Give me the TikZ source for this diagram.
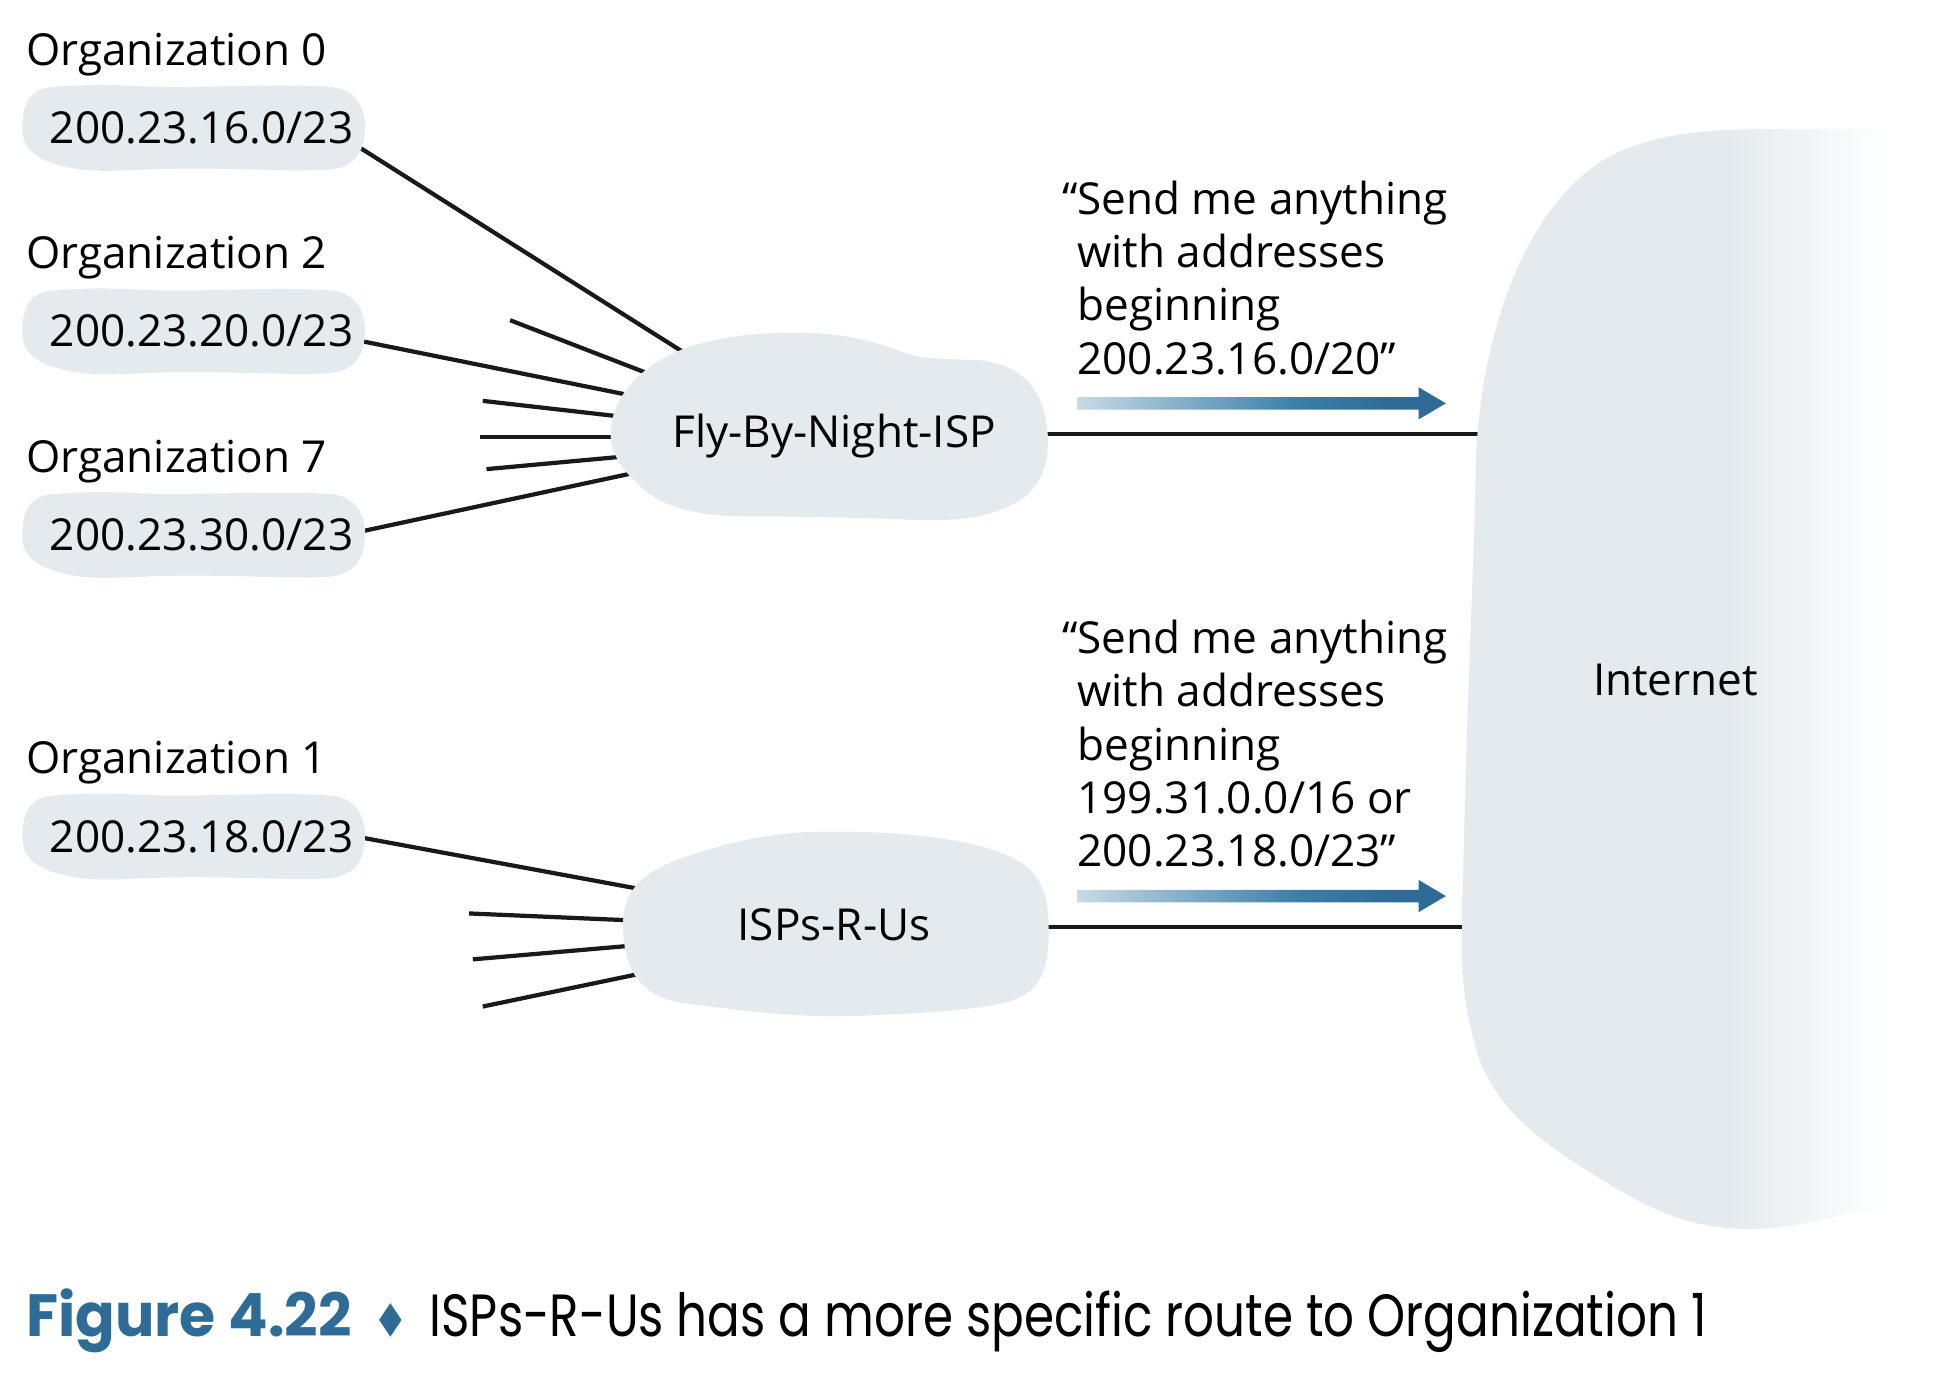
\documentclass[tikz,border=0pt]{standalone}
\usepackage{fontspec}
\usepackage{graphicx}
\setmainfont{Open Sans}
\newfontfamily\capfont{Poppins}
\pgfdeclarelayer{bg}
\pgfdeclarelayer{mid}
\pgfsetlayers{bg,mid,main}
\definecolor{cloudgray}{HTML}{E4EAED}
\definecolor{capblue}{HTML}{2E6B96}
\definecolor{arrlight}{HTML}{C8DAE5}
\definecolor{arrmid}{HTML}{3A7FA8}
\definecolor{arrdark}{HTML}{2E6B96}
\pgfdeclarehorizontalshading{inetshade}{100bp}{color(0bp)=(cloudgray); color(54bp)=(cloudgray); color(72bp)=(white); color(100bp)=(white)}
\pgfdeclarehorizontalshading{arrshade}{100bp}{color(0bp)=(arrlight); color(25bp)=(arrlight); color(55bp)=(arrmid); color(68bp)=(arrdark); color(100bp)=(arrdark)}
\newcommand{\myorgblob}[1]{%
  \begin{scope}[shift={#1}]
  \fill[cloudgray] (-112,-33) .. controls (-60,-37) and (-50,-32) .. (0,-33)
    .. controls (50,-34) and (80,-35) .. (110,-33)
    .. controls (135,-31) and (139,-10) .. (138,2)
    .. controls (137,25) and (125,33) .. (105,34)
    .. controls (60,35) and (30,32) .. (-20,33)
    .. controls (-60,34) and (-80,37) .. (-105,31)
    .. controls (-130,25) and (-138,15) .. (-138,0)
    .. controls (-138,-22) and (-130,-32) .. (-112,-33) -- cycle;
  \end{scope}}
\newcommand{\gradarrow}[3]{%
  \shade[shading=arrshade] (#1,#3-5) -- (#2-22,#3-5) -- (#2-22,#3-13) -- (#2,#3)
    -- (#2-22,#3+13) -- (#2-22,#3+5) -- (#1,#3+5) -- cycle;}
\tikzset{
  lbl/.style={font=\fontsize{35.5}{42}\selectfont, inner sep=0pt, anchor=base west},
  ctext/.style={font=\fontsize{35.5}{42}\selectfont, inner sep=0pt, anchor=base},
  quote/.style={font=\fontsize{35.5}{43}\selectfont, inner sep=0pt, align=left, anchor=base west},
  conn/.style={line width=3.4pt, black!90},
}
\begin{document}
\begin{tikzpicture}[x=1pt,y=-1pt]
\useasboundingbox (0,0) rectangle (1568,1106);

% ---- labels and texts
\node[lbl] (lab0) at (21,52.5) {Organization 0};
\node[lbl] (lab2) at (21,216.5) {Organization 2};
\node[lbl] (lab7) at (21,380.5) {Organization 7};
\node[lbl] (lab1) at (21,623.5) {Organization 1};
\node[lbl] (org0) at (40,115.5) {200.23.16.0/23};
\node[lbl] (org2) at (40,279.5) {200.23.20.0/23};
\node[lbl] (org7) at (40,443.5) {200.23.30.0/23};
\node[lbl] (org1) at (40,686.5) {200.23.18.0/23};
\node[ctext] (fbn) at (672,360.5) {Fly-By-Night-ISP};
\node[ctext] (isp) at (672,757.5) {ISPs-R-Us};
\node[ctext] (inet) at (1350,560.5) {Internet};
\node[quote] (q1) at (868,301.5) {\llap{“}Send me anything\\with addresses\\beginning\\200.23.16.0/20”};
\node[quote] (q2) at (868,698.5) {\llap{“}Send me anything\\with addresses\\beginning\\199.31.0.0/16 or\\200.23.18.0/23”};

% ---- connector end points
\coordinate (o0s) at (290,119);
\coordinate (f0) at (562,291);
\coordinate (s1) at (411,258);
\coordinate (f1) at (530,304);
\coordinate (o2s) at (292,275);
\coordinate (f2) at (520,321);
\coordinate (s2) at (389,323);
\coordinate (f3) at (512,337);
\coordinate (s3) at (387,352);
\coordinate (f4) at (510,352);
\coordinate (s4) at (392,378);
\coordinate (f5) at (512,367);
\coordinate (o7s) at (292,428);
\coordinate (f6) at (525,378);
\coordinate (o1s) at (292,675);
\coordinate (i0) at (530,719);
\coordinate (s5) at (378,736);
\coordinate (i1) at (518,742);
\coordinate (s6) at (381,773);
\coordinate (i2) at (520,761);
\coordinate (s7) at (389,811);
\coordinate (i3) at (528,782);
\coordinate (fbnR) at (835,350);
\coordinate (netA) at (1205,350);
\coordinate (ispR) at (835,747);
\coordinate (netB) at (1195,747);

\begin{pgfonlayer}{bg}
\draw[conn] (o0s) -- (f0);
\draw[conn] (s1) -- (f1);
\draw[conn] (o2s) -- (f2);
\draw[conn] (s2) -- (f3);
\draw[conn] (s3) -- (f4);
\draw[conn] (s4) -- (f5);
\draw[conn] (o7s) -- (f6);
\draw[conn] (o1s) -- (i0);
\draw[conn] (s5) -- (i1);
\draw[conn] (s6) -- (i2);
\draw[conn] (s7) -- (i3);
\draw[conn] (fbnR) -- (netA);
\draw[conn] (ispR) -- (netB);
\end{pgfonlayer}

\begin{pgfonlayer}{mid}
\myorgblob{(156,103)}
\myorgblob{(156,267)}
\myorgblob{(156,431)}
\myorgblob{(156,674)}
% Fly-By-Night cloud
\fill[cloudgray] (492,350) .. controls (492,318) and (520,290) .. (560,278)
  .. controls (590,270) and (610,268) .. (640,268)
  .. controls (680,268) and (705,275) .. (728,284)
  .. controls (745,290) and (760,289) .. (785,290)
  .. controls (820,292) and (838,310) .. (843,340)
  .. controls (848,370) and (840,395) .. (815,407)
  .. controls (795,417) and (770,420) .. (740,419)
  .. controls (690,417) and (640,416) .. (600,416)
  .. controls (560,416) and (530,408) .. (512,388)
  .. controls (498,375) and (492,362) .. (492,350) -- cycle;
% ISPs-R-Us cloud
\fill[cloudgray] (502,745) .. controls (502,715) and (520,700) .. (560,688)
  .. controls (600,675) and (630,670) .. (670,670)
  .. controls (740,670) and (800,678) .. (827,698)
  .. controls (843,712) and (845,730) .. (845,750)
  .. controls (845,780) and (840,800) .. (810,808)
  .. controls (780,815) and (720,818) .. (670,819)
  .. controls (620,818) and (580,812) .. (550,808)
  .. controls (515,803) and (502,780) .. (502,745) -- cycle;
% Internet cloud
\shade[shading=inetshade] (1178,760) .. controls (1180,600) and (1188,450) .. (1189,380)
  .. controls (1190,300) and (1215,180) .. (1290,130)
  .. controls (1330,106) and (1380,104) .. (1430,104)
  -- (1545,104) -- (1545,975) -- (1500,975)
  .. controls (1460,985) and (1430,992) .. (1400,990)
  .. controls (1360,988) and (1330,975) .. (1290,950)
  .. controls (1240,920) and (1200,890) .. (1188,840)
  .. controls (1180,810) and (1178,790) .. (1178,760) -- cycle;
\end{pgfonlayer}

% ---- gradient arrows
\gradarrow{868}{1165}{325}
\gradarrow{868}{1165}{722}

% ---- caption
\node[inner sep=0pt, anchor=base west, text=capblue, font=\capfont\bfseries\fontsize{48}{56}\selectfont] (figno) at (21,1077) {\resizebox{262pt}{\height}{Figure 4.22}};
\fill[capblue] (314.5,1050) -- (323.5,1063.5) -- (314.5,1077) -- (305.5,1063.5) -- cycle;
\node[inner sep=0pt, anchor=base west, font=\capfont\fontsize{48}{56}\selectfont] (captxt) at (346,1077) {\resizebox{1029pt}{\height}{ISPs-R-Us has a more specific route to Organization 1}};
\end{tikzpicture}
\end{document}
